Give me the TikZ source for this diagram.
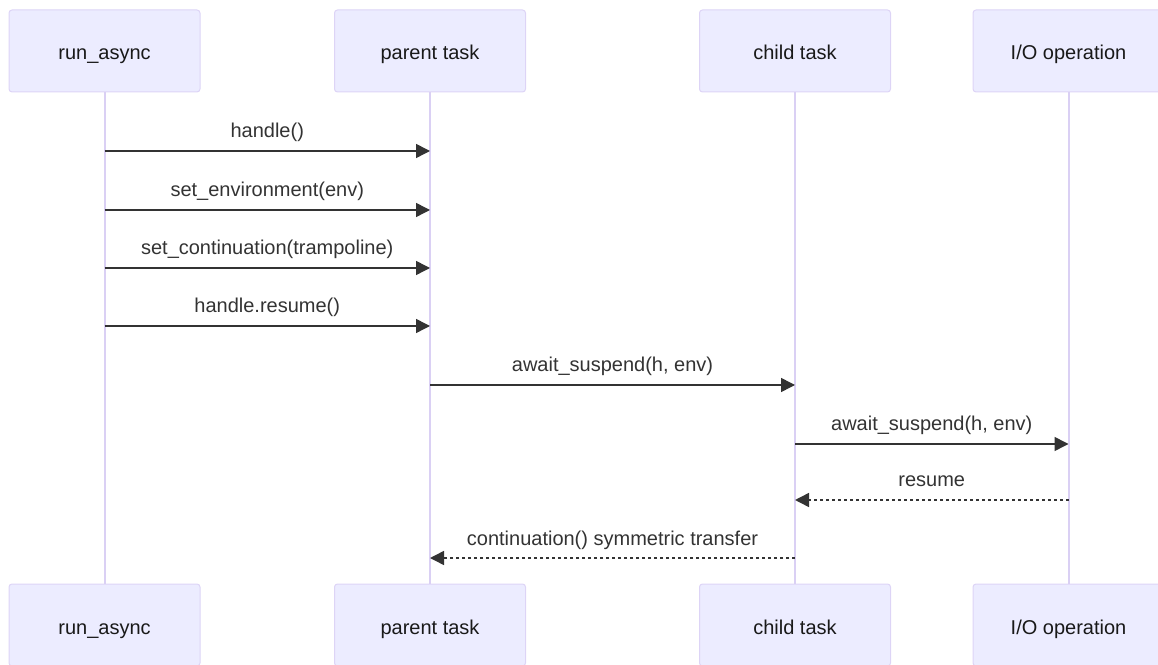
\documentclass[tikz,border=0pt]{standalone}
\usepackage{fontspec}
\setmainfont{Liberation Sans}
\usetikzlibrary{positioning, arrows.meta, calc}
\definecolor{actorfill}{HTML}{ECECFF}
\definecolor{actorline}{HTML}{DDD4F6}
\definecolor{lifeline}{HTML}{DAD0F4}
\definecolor{msgline}{HTML}{333333}

\begin{document}
\begin{tikzpicture}[
			x=1pt, y=1pt,
			actor/.style={draw=actorline, fill=actorfill, rounded corners=3pt, line width=1pt,
				minimum width=191pt, minimum height=82pt, font=\fontsize{20}{24}\selectfont,
				text height=18pt, text depth=0pt, text=black!90},
			life/.style={draw=lifeline, line width=2pt},
			msg/.style={-{Triangle[length=14pt, width=14pt]}, line width=1.5pt, draw=msgline},
			reply/.style={msg, dash pattern=on 3pt off 3pt},
			label/.style={font=\fontsize{20}{24}\selectfont, text=msgline, anchor=base, yshift=13pt, inner sep=0pt}
			]
			\useasboundingbox (0,0) rectangle (1158,664);
			
			% Actors top
			\node[actor] (runT)    at (104.5,613) {run\_async};
			\node[actor] (parentT) at (430,613)   {parent task};
			\node[actor] (childT)  at (795,613)   {child task};
			\node[actor] (ioT)     at (1068.5,613) {I/O operation};
			
			% Actors bottom
			\node[actor] (runB)    at (104.5,39) {run\_async};
			\node[actor] (parentB) at (430,39)   {parent task};
			\node[actor] (childB)  at (795,39)   {child task};
			\node[actor] (ioB)     at (1068.5,39) {I/O operation};
			
			% Lifelines
			\draw[life] (runT) -- (runB);
			\draw[life] (parentT) -- (parentB);
			\draw[life] (childT) -- (childB);
			\draw[life] (ioT) -- (ioB);
			
			% Messages
			\draw[msg] (runT |- 0,513) -- node[label] {handle()} (parentT |- 0,513);
			\draw[msg] (runT |- 0,454) -- node[label] {set\_environment(env)} (parentT |- 0,454);
			\draw[msg] (runT |- 0,396) -- node[label] {set\_continuation(trampoline)} (parentT |- 0,396);
			\draw[msg] (runT |- 0,338) -- node[label] {handle.resume()} (parentT |- 0,338);
			\draw[msg] (parentT |- 0,279) -- node[label] {await\_suspend(h, env)} (childT |- 0,279);
			\draw[msg] (childT |- 0,220) -- node[label] {await\_suspend(h, env)} (ioT |- 0,220);
			\draw[reply] (ioT |- 0,164) -- node[label] {resume} (childT |- 0,164);
			\draw[reply] (childT |- 0,106) -- node[label] {continuation() symmetric transfer} (parentT |- 0,106);
			
		\end{tikzpicture}
\end{document}
